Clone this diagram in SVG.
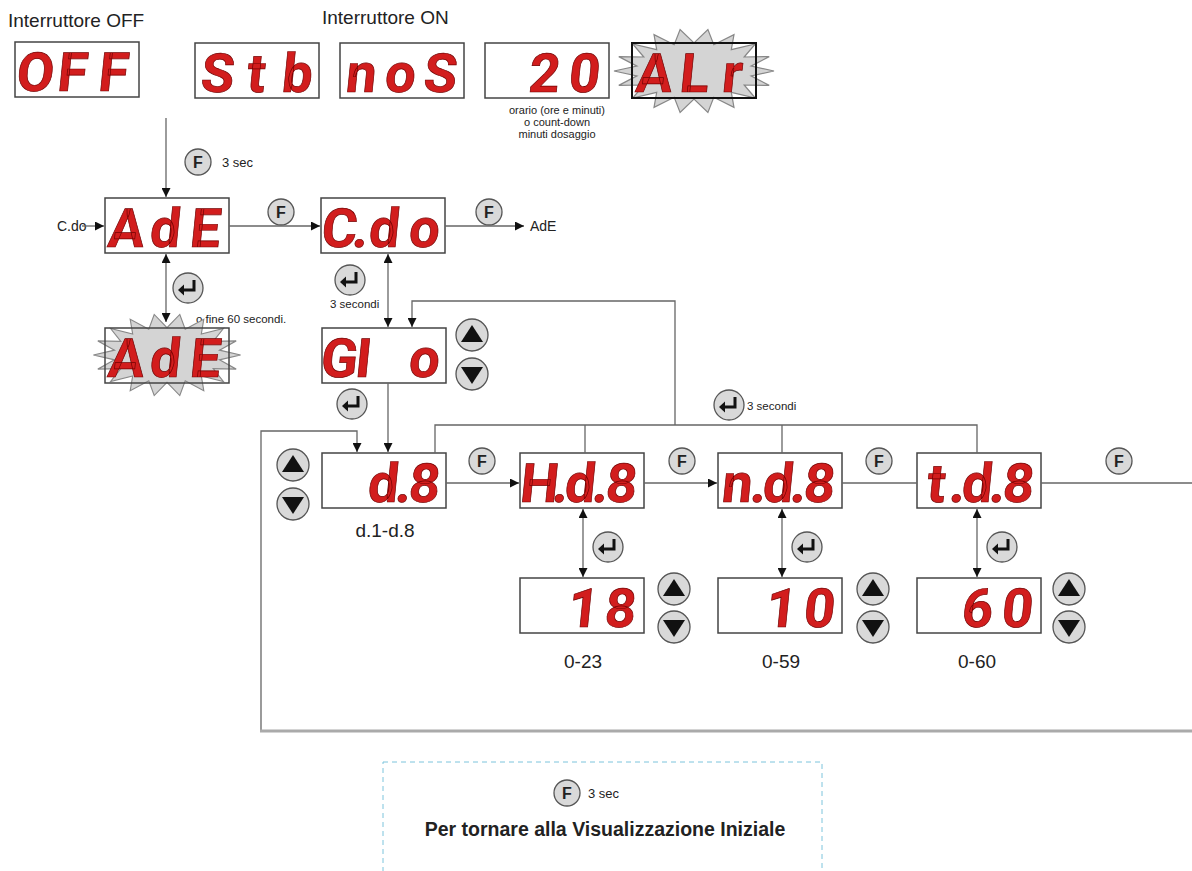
<svg xmlns="http://www.w3.org/2000/svg" xmlns:xlink="http://www.w3.org/1999/xlink" width="1192" height="871" viewBox="0 0 1192 871">
<style>
.bg{fill:#ffffff}
.box{fill:#ffffff;stroke:#444;stroke-width:1.5}
.boxk{fill:none;stroke:#111;stroke-width:2}
.seg{font-family:Roboto,"DejaVu Sans",sans-serif;font-weight:bold;font-size:54px;fill:#d21d1d;stroke:#700000;stroke-width:0.7;text-anchor:middle}
.lbl{font-family:"Liberation Sans",Arial,sans-serif;fill:#222}
.con{fill:none;stroke:#666;stroke-width:1.3}
.bot{fill:none;stroke:#aaa;stroke-width:3}
.btn{fill:#d9d9d9;stroke:#555;stroke-width:1.3}
.star{fill:#d4d4d4;stroke:#888;stroke-width:1.2}
</style>
<defs>
<marker id="ah" viewBox="0 0 10 10" refX="10" refY="5" markerWidth="9" markerHeight="9" markerUnits="userSpaceOnUse" orient="auto-start-reverse">
<path d="M0,0 L10,5 L0,10 z" fill="#111"/>
</marker>
<polygon id="star" class="star" points="80,0 57.1,4.9 75.2,14.4 50.2,14 61.3,27 37.3,21.4 40,36.4 19.8,26.3 13.9,41.4 0,28 -13.9,41.4 -19.8,26.3 -40,36.4 -37.3,21.4 -61.3,27 -50.2,14 -75.2,14.4 -57.1,4.9 -80,0 -57.1,-4.9 -75.2,-14.4 -50.2,-14 -61.3,-27 -37.3,-21.4 -40,-36.4 -19.8,-26.3 -13.9,-41.4 0,-28 13.9,-41.4 19.8,-26.3 40,-36.4 37.3,-21.4 61.3,-27 50.2,-14 75.2,-14.4 57.1,-4.9"/>
<g id="btnF">
<circle class="btn" r="13"/>
<text y="5.5" text-anchor="middle" font-family="Liberation Sans,Arial,sans-serif" font-weight="bold" font-size="16" fill="#222">F</text>
</g>
<g id="btnEnter">
<circle class="btn" r="15"/>
<path d="M6,-8 V2 H-5" fill="none" stroke="#111" stroke-width="3"/>
<polygon points="-10,2 -4,-3.5 -4,7.5" fill="#111"/>
</g>
<g id="btnUp">
<circle class="btn" r="16"/>
<polygon points="0,-10 11,7 -11,7" fill="#111"/>
</g>
<g id="btnDown">
<circle class="btn" r="16"/>
<polygon points="0,10 11,-7 -11,-7" fill="#111"/>
</g>
</defs>
<rect class="bg" x="0" y="0" width="1192" height="871"/>

<g id="labels">
<text class="lbl" x="8" y="27" font-size="19">Interruttore OFF</text>
<text class="lbl" x="322" y="24" font-size="19">Interruttore ON</text>
<text class="lbl" x="557" y="114" font-size="11" text-anchor="middle">orario (ore e minuti)</text>
<text class="lbl" x="557" y="126" font-size="11" text-anchor="middle">o count-down</text>
<text class="lbl" x="557" y="138" font-size="11" text-anchor="middle">minuti dosaggio</text>
<text class="lbl" x="222" y="167" font-size="13">3 sec</text>
<text class="lbl" x="57" y="231" font-size="14">C.do</text>
<text class="lbl" x="530" y="231" font-size="14">AdE</text>
<text class="lbl" x="196" y="323" font-size="11.5">o fine 60 secondi.</text>
<text class="lbl" x="330" y="308" font-size="11.5">3 secondi</text>
<text class="lbl" x="747" y="410" font-size="11.5">3 secondi</text>
<text class="lbl" x="385" y="537" font-size="19" text-anchor="middle">d.1-d.8</text>
<text class="lbl" x="583" y="668" font-size="19" text-anchor="middle">0-23</text>
<text class="lbl" x="781" y="668" font-size="19" text-anchor="middle">0-59</text>
<text class="lbl" x="977" y="668" font-size="19" text-anchor="middle">0-60</text>
</g>

<g id="node-off">
<rect class="box" x="15" y="42" width="124" height="55"/>
<text class="seg" x="34 71 112" y="91" transform="matrix(1,0,-0.1,1,9.1,0)">OFF</text>
</g>
<g id="node-stb">
<rect class="box" x="195" y="43" width="124" height="55"/>
<text class="seg" x="216 255 296" y="92" transform="matrix(1,0,-0.1,1,9.2,0)">Stb</text>
</g>
<g id="node-nos">
<rect class="box" x="340" y="43" width="124" height="55"/>
<text class="seg" x="360 399 439" y="92" transform="matrix(1,0,-0.1,1,9.2,0)">noS</text>
</g>
<g id="node-20">
<rect class="box" x="485" y="43" width="124" height="55"/>
<text class="seg" x="543 583" y="92" transform="matrix(1,0,-0.1,1,9.2,0)">20</text>
</g>
<g id="node-alr">
<use xlink:href="#star" href="#star" transform="translate(694,71)"/>
<rect class="boxk" x="632" y="43" width="124" height="55"/>
<text class="seg" x="653 693 731" y="92" transform="matrix(1,0,-0.1,1,9.2,0)">ALr</text>
</g>
<g id="node-ade">
<rect class="box" x="105" y="198" width="124" height="55"/>
<text class="seg" x="125 164 204" y="247" transform="matrix(1,0,-0.1,1,24.7,0)">AdE</text>
</g>
<g id="node-cdo">
<rect class="box" x="321" y="198" width="124" height="55"/>
<text class="seg" x="338 359 383 423" y="247" transform="matrix(1,0,-0.1,1,24.7,0)">C.do</text>
</g>
<g id="node-ade-flash">
<use xlink:href="#star" href="#star" transform="translate(167,355) scale(0.92,0.98)"/>
<rect class="box" x="105" y="328" width="124" height="55" style="fill:none"/>
<text class="seg" x="125 164 204" y="377" transform="matrix(1,0,-0.1,1,37.7,0)">AdE</text>
</g>
<g id="node-gio">
<rect class="box" x="322" y="328" width="124" height="55"/>
<text class="seg" x="338 362 393 423" y="377" transform="matrix(1,0,-0.1,1,37.7,0)">GI o</text>
</g>
<g id="node-d8">
<rect class="box" x="322" y="453" width="124" height="55"/>
<text class="seg" x="382 402 423" y="502" transform="matrix(1,0,-0.1,1,50.2,0)">d.8</text>
</g>
<g id="node-hd8">
<rect class="box" x="520" y="453" width="124" height="55"/>
<text class="seg" x="538 559 579 599 620" y="502" transform="matrix(1,0,-0.1,1,50.2,0)">H.d.8</text>
</g>
<g id="node-nd8">
<rect class="box" x="718" y="453" width="124" height="55"/>
<text class="seg" x="736 757 777 797 818" y="502" transform="matrix(1,0,-0.1,1,50.2,0)">n.d.8</text>
</g>
<g id="node-td8">
<rect class="box" x="917" y="453" width="124" height="55"/>
<text class="seg" x="935 956 976 996 1017" y="502" transform="matrix(1,0,-0.1,1,50.2,0)">t.d.8</text>
</g>
<g id="node-18">
<rect class="box" x="520" y="578" width="124" height="55"/>
<text class="seg" x="582 619" y="627" transform="matrix(1,0,-0.1,1,62.7,0)">18</text>
</g>
<g id="node-10">
<rect class="box" x="718" y="578" width="124" height="55"/>
<text class="seg" x="780 818" y="627" transform="matrix(1,0,-0.1,1,62.7,0)">10</text>
</g>
<g id="node-60">
<rect class="box" x="917" y="578" width="124" height="55"/>
<text class="seg" x="976 1016" y="627" transform="matrix(1,0,-0.1,1,62.7,0)">60</text>
</g>

<g id="buttons">
<use href="#btnF" x="198" y="162"/>
<use href="#btnF" x="281" y="212"/>
<use href="#btnF" x="489" y="212"/>
<use href="#btnEnter" x="188" y="288"/>
<use href="#btnEnter" x="350" y="280"/>
<use href="#btnUp" x="472" y="335"/>
<use href="#btnDown" x="472" y="374"/>
<use href="#btnEnter" x="352" y="404"/>
<use href="#btnEnter" x="729" y="405"/>
<use href="#btnUp" x="293" y="465"/>
<use href="#btnDown" x="293" y="504"/>
<use href="#btnF" x="482" y="461"/>
<use href="#btnF" x="682" y="461"/>
<use href="#btnF" x="879" y="461"/>
<use href="#btnF" x="1119" y="461"/>
<use href="#btnEnter" x="608" y="547"/>
<use href="#btnEnter" x="807" y="547"/>
<use href="#btnEnter" x="1002" y="547"/>
<use href="#btnUp" x="674" y="589"/>
<use href="#btnDown" x="674" y="627"/>
<use href="#btnUp" x="873" y="589"/>
<use href="#btnDown" x="873" y="627"/>
<use href="#btnUp" x="1069" y="589"/>
<use href="#btnDown" x="1069" y="627"/>
</g>

<g id="connectors">
<line class="con" x1="166" y1="118" x2="166" y2="197" marker-end="url(#ah)"/>
<line class="con" x1="82" y1="226" x2="104" y2="226" marker-end="url(#ah)"/>
<line class="con" x1="229" y1="226" x2="320" y2="226" marker-end="url(#ah)"/>
<line class="con" x1="445" y1="226" x2="524" y2="226" marker-end="url(#ah)"/>
<line class="con" x1="166" y1="254" x2="166" y2="322" marker-start="url(#ah)" marker-end="url(#ah)"/>
<line class="con" x1="388" y1="254" x2="388" y2="327" marker-start="url(#ah)" marker-end="url(#ah)"/>
<polyline class="con" points="675,425 675,301 412,301 412,327" marker-end="url(#ah)"/>
<line class="con" x1="388" y1="383" x2="388" y2="452" marker-end="url(#ah)"/>
<polyline class="con" points="261,731 261,431 357,431 357,452" marker-end="url(#ah)"/>
<line class="bot" x1="260" y1="731" x2="1192" y2="731"/>
<polyline class="con" points="435,453 435,425 977,425 977,453"/>
<line class="con" x1="585" y1="425" x2="585" y2="453"/>
<line class="con" x1="782" y1="425" x2="782" y2="453"/>
<line class="con" x1="446" y1="483" x2="519" y2="483" marker-end="url(#ah)"/>
<line class="con" x1="644" y1="483" x2="717" y2="483" marker-end="url(#ah)"/>
<line class="con" x1="842" y1="483" x2="917" y2="483"/>
<line class="con" x1="1041" y1="483" x2="1192" y2="483"/>
<line class="con" x1="583" y1="509" x2="583" y2="577" marker-start="url(#ah)" marker-end="url(#ah)"/>
<line class="con" x1="782" y1="509" x2="782" y2="577" marker-start="url(#ah)" marker-end="url(#ah)"/>
<line class="con" x1="977" y1="509" x2="977" y2="577" marker-start="url(#ah)" marker-end="url(#ah)"/>
</g>

<g id="note">
<rect x="383" y="762" width="439" height="120" fill="#ffffff" stroke="#7cc4dc" stroke-width="1" stroke-dasharray="5,4"/>
<use href="#btnF" x="567" y="793"/>
<text class="lbl" x="588" y="798" font-size="13">3 sec</text>
<text class="lbl" x="605" y="836" font-size="19.5" font-weight="bold" text-anchor="middle" fill="#111">Per tornare alla Visualizzazione Iniziale</text>
</g>
</svg>
